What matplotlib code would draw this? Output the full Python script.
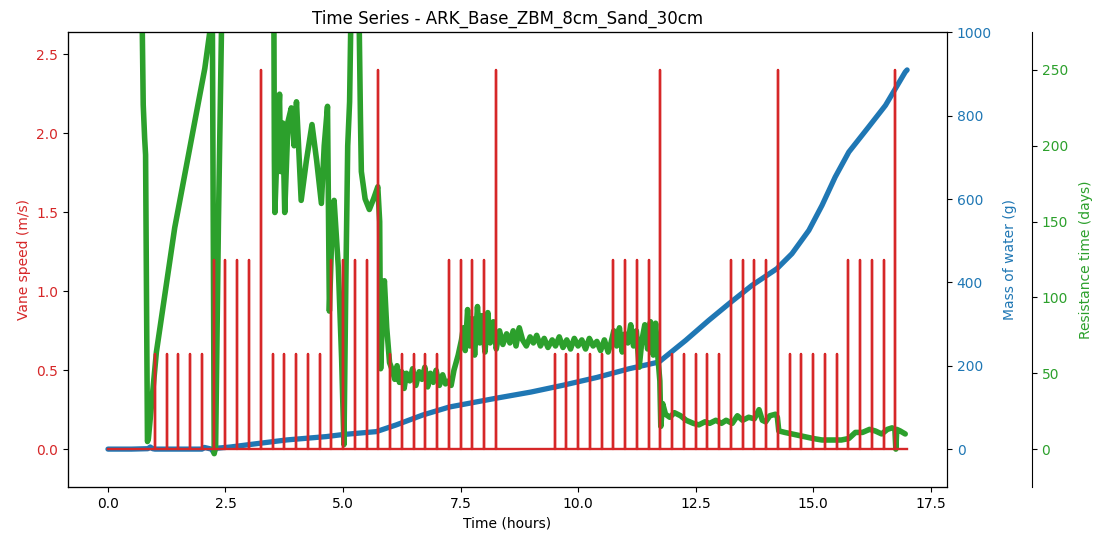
import numpy as np
import matplotlib
matplotlib.use("Agg")
import matplotlib.pyplot as plt

# vane speed pulses (hours, m/s)
spike_times = [1.0, 1.25, 1.5, 1.75, 2.0, 2.25, 2.5, 2.75, 3.0, 3.25,
               3.5, 3.75, 4.0, 4.25, 4.5, 4.75, 5.0, 5.25, 5.5, 5.75,
               6.0, 6.25, 6.5, 6.75, 7.0, 7.25, 7.5, 7.75, 8.0, 8.25,
               9.5, 9.75, 10.0, 10.25, 10.5, 10.75, 11.0, 11.25, 11.5, 11.75,
               12.0, 12.25, 12.5, 12.75, 13.0, 13.25, 13.5, 13.75, 14.0, 14.25,
               14.5, 14.75, 15.0, 15.25, 15.5, 15.75, 16.0, 16.25, 16.5, 16.75]
spike_levels = [0.6, 0.6, 0.6, 0.6, 0.6, 1.2, 1.2, 1.2, 1.2, 2.4] * 6
t_start, t_end = 0.0, 17.0

# mass of water (g)
mass_t = [0, 0.5, 0.85, 0.90, 0.95, 1.0, 1.5, 2.0, 2.05, 2.2, 2.25, 2.3, 2.6,
          3.23, 3.8, 4.64, 5.0, 5.71, 6.13, 6.70, 7.26, 8.25, 9.0, 9.67, 10.4,
          11.09, 11.72, 12.29, 12.78, 13.21, 13.70, 14.23, 14.55, 14.91, 15.19,
          15.47, 15.76, 16.18, 16.54, 16.96, 17.0]
mass_g = [0, 0, 1, 5, 1, 0, 0, 0, 4, 0, -8, 2, 5,
          14, 22, 30, 35, 42, 58, 82, 101, 122, 137, 153, 172,
          193, 209, 261, 309, 349, 393, 433, 469, 525, 585,
          653, 713, 773, 825, 905, 910]

# resistance time (days)
res_t = [0.70, 0.72, 0.75, 0.78, 0.80, 0.82, 0.84, 0.86, 1.03, 1.42, 1.78, 2.06, 2.21,
         2.22, 2.26, 2.29, 2.35, 2.42, 2.50, 3.45, 3.53, 3.54, 3.55, 3.60, 3.65, 3.67,
         3.72, 3.76, 3.83, 3.90, 3.96, 4.01, 4.11, 4.22, 4.34, 4.44, 4.54, 4.60, 4.67,
         4.71, 4.76, 4.81, 4.90, 4.97, 5.02, 5.06, 5.10, 5.14, 5.17, 5.30, 5.34, 5.37,
         5.39, 5.47, 5.56, 5.65, 5.74, 5.78, 5.80, 5.85, 5.88, 5.93, 5.99,
         6.05, 6.10, 6.15, 6.20, 6.25, 6.30, 6.35, 6.42, 6.48, 6.55, 6.62, 6.68, 6.74,
         6.80, 6.86, 6.92, 6.98, 7.05, 7.12, 7.18, 7.25, 7.30, 7.36, 7.45, 7.52, 7.56,
         7.60, 7.65, 7.70, 7.75, 7.80, 7.86, 7.91, 7.96, 8.02, 8.08, 8.13, 8.20, 8.26,
         8.33, 8.40, 8.48, 8.55, 8.62, 8.68, 8.75, 8.82, 8.90, 8.98, 9.05, 9.12, 9.20,
         9.28, 9.36, 9.45, 9.52, 9.60, 9.68, 9.76, 9.84, 9.92, 10.00, 10.08, 10.16,
         10.24, 10.32, 10.40, 10.48, 10.56, 10.64, 10.70, 10.76, 10.82, 10.88, 10.94,
         11.00, 11.06, 11.12, 11.18, 11.24, 11.30, 11.36, 11.42, 11.48, 11.54, 11.60,
         11.65, 11.70, 11.74, 11.76, 11.80, 11.86, 11.95, 12.05, 12.18, 12.30, 12.45,
         12.57, 12.70, 12.80, 12.93, 13.05, 13.15, 13.28, 13.39, 13.50, 13.63, 13.75,
         13.85, 13.92, 13.99, 14.08, 14.20, 14.24, 14.27, 14.40, 14.55, 14.69, 14.85,
         15.00, 15.19, 15.40, 15.60, 15.76, 15.90, 16.05, 16.20, 16.32, 16.46, 16.58,
         16.68, 16.74, 16.76, 16.78, 16.85, 16.96]
res_d = [420, 300, 227, 205, 194, 100, 5, 7, 64, 146, 205, 251, 285,
         290, -3, 2, 150, 290, 400, 400, 280, 190, 156, 200, 234, 183,
         215, 156, 216, 225, 200, 229, 164, 190, 214, 190, 162, 200, 226,
         91, 140, 164, 120, 60, 3, 110, 200, 229, 290, 320, 290, 220,
         183, 165, 158, 165, 173, 150, 53, 95, 111, 80, 57,
         52, 46, 55, 44, 51, 40, 50, 45, 53, 42, 51, 46, 54,
         41, 50, 44, 52, 42, 49, 43, 45, 42, 52, 62, 72, 80,
         65, 92, 68, 86, 62, 94, 70, 88, 64, 90, 70, 84, 66,
         78, 69, 76, 70, 78, 68, 80, 72, 68, 74, 70, 75, 68,
         73, 67, 72, 68, 74, 67, 72, 66, 73, 68, 72, 66,
         73, 68, 71, 65, 72, 64, 70, 78, 68, 80, 64,
         76, 70, 82, 68, 78, 54, 72, 82, 66, 84, 62,
         83, 60, 45, 15, 30, 23, 21, 24, 22, 19, 17,
         16, 18, 17, 19, 17, 19, 17, 22, 19, 21, 20,
         26, 19, 18, 22, 23, 21, 12, 11, 10, 9, 8,
         7, 6, 6, 6, 7, 11, 11, 13, 12, 10, 13,
         14, 13, 0, 13, 12, 10]

# build the pulse trace: baseline with a vertical spike at each pulse time
vt = [t_start]
vs = [0.0]
for ts, lv in zip(spike_times, spike_levels):
    vt += [ts, ts, ts]
    vs += [0.0, lv, 0.0]
vt.append(t_end)
vs.append(0.0)

fig = plt.figure(figsize=(11.06, 5.4), dpi=100)
ax = fig.add_axes([0.0615, 0.0981, 0.7948, 0.8426])
ax_b = ax.twinx()
ax_g = ax.twinx()

ax_b.plot(mass_t, mass_g, color="tab:blue", lw=3.8, solid_capstyle="round",
          solid_joinstyle="round")
ax_g.plot(res_t, res_d, color="tab:green", lw=4.0, solid_capstyle="round",
          solid_joinstyle="round")
ax.plot(vt, vs, color="tab:red", lw=1.7)

# red on top, then green, then blue
ax.set_zorder(3)
ax_g.set_zorder(2)
ax_b.set_zorder(1)
ax.patch.set_visible(False)
ax_g.patch.set_visible(False)

ax.set_xlim(-0.85, 17.85)
ax.set_ylim(-0.24, 2.64)
ax_b.set_ylim(-91, 1001)
ax_g.set_ylim(-25, 275)
ax.set_yticks([0.0, 0.5, 1.0, 1.5, 2.0, 2.5])
ax.set_xticks([0.0, 2.5, 5.0, 7.5, 10.0, 12.5, 15.0, 17.5])
ax_b.set_yticks([0, 200, 400, 600, 800, 1000])
ax_g.set_yticks([0, 50, 100, 150, 200, 250])

ax_g.spines["right"].set_position(("outward", 61))

ax.set_xlabel("Time (hours)")
ax.set_ylabel("Vane speed (m/s)", color="tab:red")
ax_b.set_ylabel("Mass of water (g)", color="tab:blue", labelpad=8)
ax_g.set_ylabel("Resistance time (days)", color="tab:green", labelpad=8)
ax.tick_params(axis="y", labelcolor="tab:red")
ax_b.tick_params(axis="y", labelcolor="tab:blue")
ax_g.tick_params(axis="y", labelcolor="tab:green")

ax.set_title("Time Series - ARK_Base_ZBM_8cm_Sand_30cm")

fig.savefig("out.png", dpi=100, facecolor="white")
